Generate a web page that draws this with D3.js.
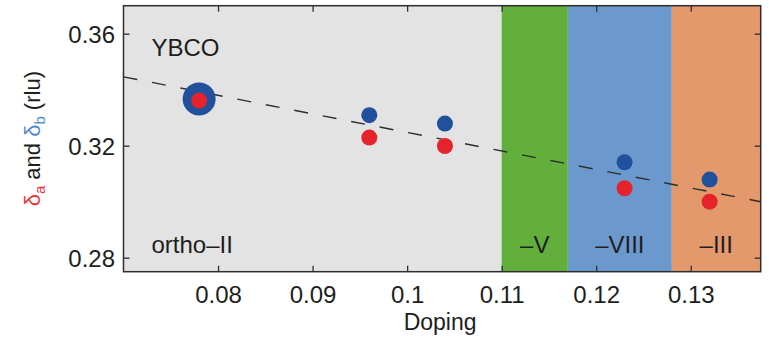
<!DOCTYPE html>
<html>
<head>
<meta charset="utf-8">
<script src="https://cdn.jsdelivr.net/npm/d3@7"></script>
<style>
  html, body { margin: 0; padding: 0; background: #fff; }
  svg { display: block; font-family: "Liberation Sans", Arial, Helvetica, sans-serif; }
</style>
</head>
<body>
<svg id="chart" width="769" height="340"></svg>
<script>
// Charge-order wavevectors of YBCO versus hole doping
const doping = [0.078, 0.096, 0.104, 0.123, 0.132];
const deltaA = [0.3361, 0.3229, 0.3199, 0.3048, 0.3000];
const deltaB = [0.3367, 0.3309, 0.3279, 0.3141, 0.3079];
const emphasis = [1, 0, 0, 0, 0];

// Oxygen-ordered phases
const phaseNames = ["ortho\u2013II", "\u2013V", "\u2013VIII", "\u2013III"];
const phaseStart = [0.070, 0.110, 0.117, 0.128];
const phaseEnd = [0.110, 0.117, 0.128, 0.1374];

// Linear trend
const trendX = [0.070, 0.1374];
const trendY = [0.3446, 0.3000];

const xTicks = [0.08, 0.09, 0.10, 0.11, 0.12, 0.13];
const xTickLabels = ["0.08", "0.09", "0.1", "0.11", "0.12", "0.13"];
const yTicks = [0.28, 0.32, 0.36];
const yTickLabels = ["0.28", "0.32", "0.36"];

const phaseColors = ["#e3e3e3", "#62b03b", "#6b99cd", "#e4996c"];
const redDot = "#e4232c";
const blueDot = "#21509c";

const svg = d3.select("#chart");
const plotL = 123.5, plotR = 760.7, plotT = 5.7, plotB = 271.7;

const x = d3.scaleLinear().domain([0.070, 0.1374]).range([plotL, plotR]);
const y = d3.scaleLinear().domain([0.275, 0.370]).range([plotB, plotT]);

// phase bands
svg.append("g").selectAll("rect")
  .data(phaseNames)
  .join("rect")
  .attr("x", (d, i) => x(phaseStart[i]))
  .attr("width", (d, i) => x(phaseEnd[i]) - x(phaseStart[i]))
  .attr("y", plotT)
  .attr("height", plotB - plotT)
  .attr("fill", (d, i) => phaseColors[i]);

// phase labels
svg.append("g").selectAll("text")
  .data(phaseNames)
  .join("text")
  .attr("x", (d, i) => i === 0 ? plotL + 28 : (x(phaseStart[i]) + x(phaseEnd[i])) / 2)
  .attr("y", 253)
  .attr("text-anchor", (d, i) => i === 0 ? "start" : "middle")
  .attr("font-size", 24)
  .attr("fill", "#1e1e1e")
  .text(d => d);

svg.append("text")
  .attr("x", plotL + 28)
  .attr("y", 56)
  .attr("font-size", 24)
  .attr("fill", "#1e1e1e")
  .text("YBCO");

// trend line
svg.append("line")
  .attr("x1", x(trendX[0])).attr("y1", y(trendY[0]))
  .attr("x2", x(trendX[1])).attr("y2", y(trendY[1]))
  .attr("stroke", "#2e2e2e")
  .attr("stroke-width", 1.4)
  .attr("stroke-dasharray", "14,15");

// data points
const pts = svg.append("g");
pts.selectAll("circle.b")
  .data(doping)
  .join("circle")
  .attr("class", "b")
  .attr("cx", d => x(d))
  .attr("cy", (d, i) => y(deltaB[i]))
  .attr("r", (d, i) => emphasis[i] ? 16.5 : 8)
  .attr("fill", blueDot);
pts.selectAll("circle.a")
  .data(doping)
  .join("circle")
  .attr("class", "a")
  .attr("cx", d => x(d))
  .attr("cy", (d, i) => y(deltaA[i]))
  .attr("r", 8)
  .attr("fill", redDot);

// axes with inward ticks on all four sides
const tickLen = 6;
const styleAxis = g => {
  g.select(".domain").remove();
  g.selectAll("line").attr("stroke", "#2e2e2e").attr("stroke-width", 1.3);
  g.selectAll("text").attr("font-size", 24).attr("fill", "#1e1e1e")
    .attr("font-family", "'Liberation Sans', Arial, sans-serif");
};

svg.append("g")
  .attr("transform", `translate(0,${plotB})`)
  .call(d3.axisBottom(x).tickValues(xTicks).tickSize(-tickLen).tickPadding(14)
    .tickFormat((d, i) => xTickLabels[i]))
  .call(styleAxis);
svg.append("g")
  .attr("transform", `translate(0,${plotT})`)
  .call(d3.axisTop(x).tickValues(xTicks).tickSize(-tickLen).tickFormat(""))
  .call(styleAxis);
svg.append("g")
  .attr("transform", `translate(${plotL},0)`)
  .call(d3.axisLeft(y).tickValues(yTicks).tickSize(-tickLen).tickPadding(8.5)
    .tickFormat((d, i) => yTickLabels[i]))
  .call(styleAxis)
  .call(g => g.selectAll("text").attr("dy", "0.38em"));
svg.append("g")
  .attr("transform", `translate(${plotR},0)`)
  .call(d3.axisRight(y).tickValues(yTicks).tickSize(-tickLen).tickFormat(""))
  .call(styleAxis);

// frame
svg.append("rect")
  .attr("x", plotL).attr("y", plotT)
  .attr("width", plotR - plotL).attr("height", plotB - plotT)
  .attr("fill", "none")
  .attr("stroke", "#2e2e2e")
  .attr("stroke-width", 1.5);

// axis titles
svg.append("text")
  .attr("x", (plotL + plotR) / 2 - 2)
  .attr("y", 330)
  .attr("text-anchor", "middle")
  .attr("font-size", 23)
  .attr("fill", "#1e1e1e")
  .text("Doping");

const yl = svg.append("text")
  .attr("transform", `translate(40,${(plotT + plotB) / 2}) rotate(-90)`)
  .attr("text-anchor", "middle")
  .attr("font-size", 22)
  .attr("fill", "#1e1e1e");
yl.append("tspan").attr("fill", "#e8353b").text("\u03b4");
yl.append("tspan").attr("fill", "#e8353b").attr("font-size", 15).attr("dy", 5).text("a");
yl.append("tspan").attr("dy", -5).text(" and ");
yl.append("tspan").attr("fill", "#5089d2").text("\u03b4");
yl.append("tspan").attr("fill", "#5089d2").attr("font-size", 15).attr("dy", 5).text("b");
yl.append("tspan").attr("dy", -5).text(" (rlu)");
</script>
</body>
</html>
